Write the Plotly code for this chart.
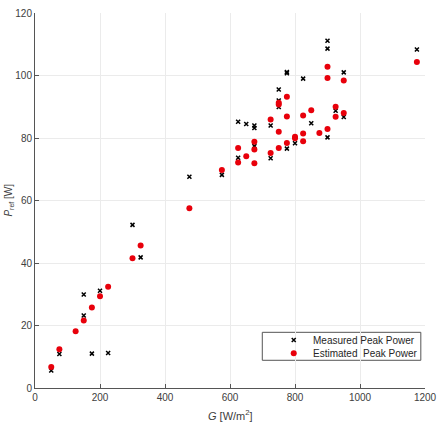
import plotly.graph_objects as go

# Measured peak power
meas_G = [50, 75, 150, 150, 175, 200, 225, 300, 325, 475, 575,
          625, 625, 650, 675, 675, 675, 725, 725, 750, 750, 750,
          775, 775, 775, 800, 825, 850, 900, 900, 900, 925, 950, 950, 1175]
meas_P = [5.6, 10.9, 29.9, 23.2, 11.0, 31.1, 11.2, 52.2, 41.8, 67.6, 68.2,
          85.2, 73.7, 84.5, 84.0, 83.2, 77.4, 84.0, 73.5, 95.5, 92.0, 89.9,
          101.1, 100.7, 76.6, 78.3, 99.0, 84.7, 111.1, 108.6, 80.2, 88.7, 101.0, 86.7, 108.3]

# Estimated peak power
est_G = [50, 75, 125, 150, 175, 200, 225, 300, 325, 475, 575,
         625, 625, 650, 675, 675, 675, 725, 725, 750, 750, 750, 750,
         775, 775, 775, 800, 800, 825, 825, 825, 850, 875, 900, 900, 900,
         925, 925, 950, 950, 1175]
est_P = [6.7, 12.4, 18.2, 21.6, 25.8, 29.4, 32.4, 41.5, 45.6, 57.5, 69.8,
         76.8, 72.2, 74.2, 78.8, 76.3, 71.9, 85.9, 75.2, 91.3, 90.7, 82.0, 76.8,
         93.2, 86.9, 78.4, 80.4, 79.9, 87.2, 81.4, 79.0, 88.9, 81.6, 102.8, 99.2, 82.9,
         90.0, 86.8, 98.4, 88.0, 104.3]

x_ticks = [0, 200, 400, 600, 800, 1000, 1200]
y_ticks = [0, 20, 40, 60, 80, 100, 120]
series_names = ["Measured Peak Power", "Estimated  Peak Power"]

FONT = "Liberation Sans, Arial, sans-serif"
TXT = "#404040"
RED = "#e8000b"

meas_marker = dict(symbol="x-thin-open", size=4, color="black",
                   line=dict(color="black", width=1.5))
est_marker = dict(symbol="circle", size=6, color=RED, line=dict(width=0))

fig = go.Figure()
fig.add_trace(go.Scatter(x=meas_G, y=meas_P, mode="markers",
                         name=series_names[0], marker=meas_marker))
fig.add_trace(go.Scatter(x=est_G, y=est_P, mode="markers",
                         name=series_names[1], marker=est_marker))

# compact legend (MATLAB style): box, symbols on an overlay axis, labels
leg_x0, leg_x1, leg_y0, leg_y1 = 0.5828, 0.9893, 0.0739, 0.1485
sym_x, txt_x = 0.6634, 0.7072
row_y = [0.128, 0.0925]
fig.add_trace(go.Scatter(x=[sym_x], y=[row_y[0]], xaxis="x2", yaxis="y2",
                         mode="markers", marker=meas_marker, hoverinfo="skip"))
fig.add_trace(go.Scatter(x=[sym_x], y=[row_y[1]], xaxis="x2", yaxis="y2",
                         mode="markers", marker=est_marker, hoverinfo="skip"))

axis_common = dict(
    showgrid=True, gridcolor="#ebebeb", gridwidth=1,
    showline=True, linecolor="#555555", linewidth=1,
    ticks="inside", ticklen=4, tickcolor="#555555",
    tickfont=dict(family=FONT, size=10, color=TXT),
    zeroline=False, mirror=False, ticklabeloverflow="allow",
)

annotations = [
    dict(text="<i>G</i> [W/m<sup>2</sup>]", xref="paper", yref="paper",
         x=0.501, y=-0.047, xanchor="center", yanchor="top",
         showarrow=False, font=dict(family=FONT, size=11, color=TXT)),
    dict(text="<i>P</i><sub>ref</sub> [W]", xref="paper", yref="paper",
         x=-0.069, y=0.5, xanchor="center", yanchor="middle", textangle=-90,
         showarrow=False, font=dict(family=FONT, size=10, color=TXT)),
]
for name, ry in zip(series_names, row_y):
    annotations.append(dict(text=name, xref="paper", yref="paper",
                            x=txt_x, y=ry, xanchor="left", yanchor="middle",
                            showarrow=False,
                            font=dict(family=FONT, size=10, color="#262626")))

fig.update_layout(
    width=444, height=422,
    margin=dict(l=35, r=7, t=13, b=34),
    paper_bgcolor="white", plot_bgcolor="white",
    font=dict(family=FONT, size=10, color=TXT),
    xaxis=dict(range=[0, 1200], tickvals=x_ticks, **axis_common),
    yaxis=dict(range=[0, 120], tickvals=y_ticks, **axis_common),
    xaxis2=dict(range=[0, 1], overlaying="x", visible=False, fixedrange=True),
    yaxis2=dict(range=[0, 1], overlaying="y", visible=False, fixedrange=True),
    showlegend=False,
    shapes=[dict(type="rect", xref="paper", yref="paper",
                 x0=leg_x0, x1=leg_x1, y0=leg_y0, y1=leg_y1,
                 fillcolor="white", line=dict(color="#555555", width=1),
                 layer="below")],
    annotations=annotations,
)

fig.write_html("out.html")
